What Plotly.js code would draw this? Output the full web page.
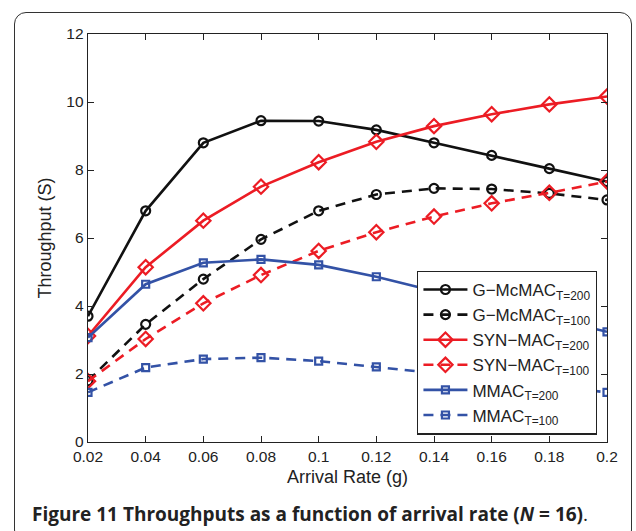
<!DOCTYPE html>
<html><head><meta charset="utf-8">
<script src="https://cdn.plot.ly/plotly-3.0.1.min.js"></script>
<style>
html,body{margin:0;padding:0;background:#fff;}
#frame{position:absolute;left:14px;top:12px;width:618px;height:530px;border:1.5px solid #333;border-radius:12px;box-sizing:border-box;}
#chart{position:absolute;left:0;top:0;width:636px;height:531px;}
</style></head>
<body>
<div id="frame"></div>
<div id="chart"></div>
<script>
const arrivalRate = [0.02,0.04,0.06,0.08,0.10,0.12,0.14,0.16,0.18,0.20];
const gmcmac200 = [3.70,6.80,8.80,9.45,9.44,9.18,8.80,8.43,8.04,7.66];
const gmcmac100 = [1.80,3.46,4.79,5.96,6.80,7.28,7.46,7.44,7.31,7.12];
const synmac200 = [3.12,5.14,6.51,7.51,8.23,8.83,9.29,9.64,9.93,10.16];
const synmac100 = [1.79,3.03,4.08,4.91,5.62,6.17,6.63,7.02,7.33,7.66];
const mmac200   = [3.07,4.64,5.27,5.37,5.21,4.86,4.44,4.05,3.65,3.24];
const mmac100   = [1.46,2.19,2.44,2.48,2.38,2.21,2.04,1.85,1.65,1.46];
const seriesNames = ["G−McMAC<sub>T=200</sub>","G−McMAC<sub>T=100</sub>","SYN−MAC<sub>T=200</sub>","SYN−MAC<sub>T=100</sub>","MMAC<sub>T=200</sub>","MMAC<sub>T=100</sub>"];
const xTickVals = [0.02,0.04,0.06,0.08,0.1,0.12,0.14,0.16,0.18,0.2];
const xTickText = ["0.02","0.04","0.06","0.08","0.1","0.12","0.14","0.16","0.18","0.2"];
const yTickVals = [0,2,4,6,8,10,12];
const yTickText = ["0","2","4","6","8","10","12"];

const BLACK="#111111", RED="#ec1c24", BLUE="#3352a6";
const DASH="10px,7px";
function tr(y,name,color,dash,symbol,size){
  return {x:arrivalRate,y:y,name:name,mode:"lines+markers",type:"scatter",
    line:{color:color,width:2.6,dash:dash},
    marker:{symbol:symbol,size:size,color:color,line:{color:color,width:2.2}}};
}
const data=[
  tr(gmcmac200,seriesNames[0],BLACK,"solid","circle-open",9),
  tr(gmcmac100,seriesNames[1],BLACK,DASH,"circle-open",9),
  tr(synmac200,seriesNames[2],RED,"solid","diamond-open",11),
  tr(synmac100,seriesNames[3],RED,DASH,"diamond-open",11),
  tr(mmac200,seriesNames[4],BLUE,"solid","square-open",7),
  tr(mmac100,seriesNames[5],BLUE,DASH,"square-open",7)
];
const axisFont={family:"Liberation Sans, Arial, sans-serif",size:15.5,color:"#222"};
const titleFont={family:"Liberation Sans, Arial, sans-serif",size:18,color:"#222"};
const layout={
  width:636,height:531,
  margin:{l:88,r:29,t:34,b:89},
  paper_bgcolor:"rgba(0,0,0,0)",plot_bgcolor:"#fff",
  showlegend:true,
  legend:{x:0.981,y:0.018,xanchor:"right",yanchor:"bottom",bgcolor:"#fff",
    bordercolor:"#222",borderwidth:1.3,font:{family:"Liberation Sans, Arial, sans-serif",size:17,color:"#222"},
    tracegroupgap:0,itemwidth:44},
  xaxis:{range:[0.02,0.2],tickvals:xTickVals,ticktext:xTickText,ticks:"inside",ticklen:6,tickwidth:1,tickcolor:"#222",
    showline:true,linecolor:"#222",linewidth:1.3,mirror:"ticks",showgrid:false,zeroline:false,
    tickfont:axisFont,title:{text:"Arrival Rate (g)",font:titleFont,standoff:6}},
  yaxis:{range:[0,12],tickvals:yTickVals,ticktext:yTickText,ticks:"inside",ticklen:6,tickwidth:1,tickcolor:"#222",
    showline:true,linecolor:"#222",linewidth:1.3,mirror:"ticks",showgrid:false,zeroline:false,
    tickfont:axisFont,title:{text:"Throughput (S)",font:titleFont,standoff:10}},
  annotations:[{xref:"paper",yref:"paper",x:-0.111,y:-0.177,xanchor:"left",yanchor:"middle",showarrow:false,
    text:"<b>Figure 11 Throughputs as a function of arrival rate (<i>N</i> = 16)</b>.",
    font:{family:"Open Sans, Noto Sans, sans-serif",size:19,color:"#222"}}]
};
Plotly.newPlot("chart",data,layout,{displayModeBar:false,staticPlot:true});
</script>
</body></html>
